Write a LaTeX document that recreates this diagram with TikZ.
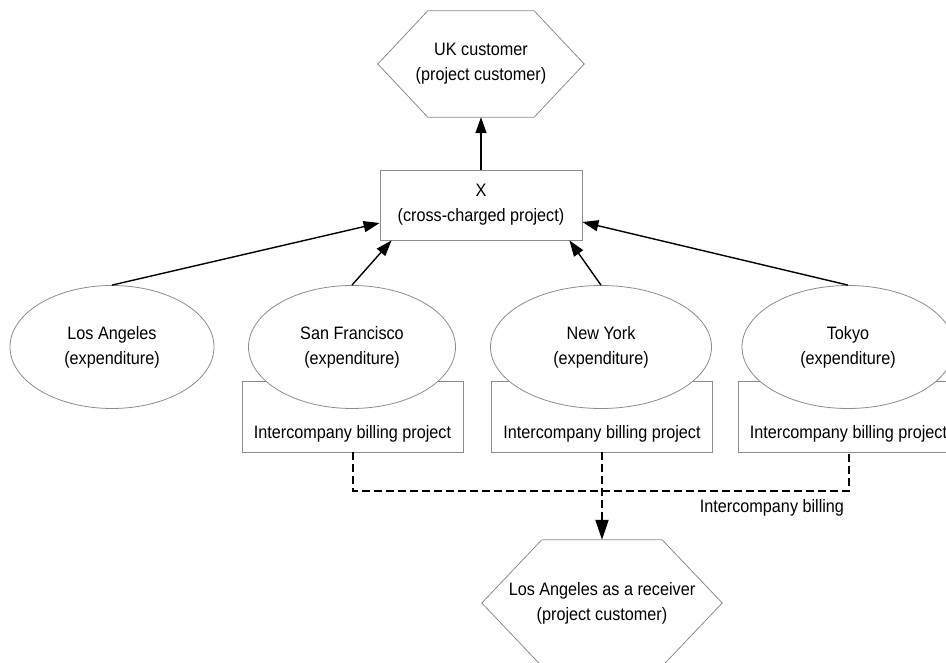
\documentclass[tikz,border=0pt]{standalone}
\usepackage{fontspec}
\setmainfont{Liberation Sans}[FakeStretch=0.9]
\usetikzlibrary{arrows.meta,shapes.geometric}

\begin{document}
\begin{tikzpicture}[x=1pt,y=-1pt,
  every node/.style={font=\fontsize{18}{25}\selectfont, align=center},
  outline/.style={draw=black!45, line width=0.8pt},
  hexlabel/.style={rectangle, inner sep=0pt},
  projbox/.style={outline, fill=white, rectangle, inner sep=0pt},
  cityell/.style={outline, fill=white, ellipse, inner sep=0pt, minimum height=123pt},
  billbox/.style={outline, fill=white, rectangle, inner sep=0pt,
    minimum width=221pt, text height=57.5pt, text depth=13.5pt},
  feed/.style={-{Triangle[length=16pt,width=11pt]}, line width=1.4pt},
  billing/.style={dash pattern=on 8pt off 4pt, line width=2pt},
]
\useasboundingbox (0,0) rectangle (946,663);
\begin{scope}
\clip (0,0) rectangle (946,663);
\fill[white] (0,0) rectangle (946,663);

% project customer at the top
\node[hexlabel, minimum width=206pt, minimum height=106pt] (uk) at (481,64)
  {UK customer\\(project customer)};
\draw[outline] (uk.west) -- ([xshift=50pt]uk.north west) -- ([xshift=-50pt]uk.north east)
  -- (uk.east) -- ([xshift=-50pt]uk.south east) -- ([xshift=50pt]uk.south west) -- cycle;

% cross-charged project
\node[projbox, minimum width=202pt, minimum height=70pt] (xproj) at (481,205)
  {X\\(cross-charged project)};

% intercompany billing projects
\node[billbox] (sfb) at (352.5,416.5) {Intercompany billing project};
\node[billbox] (nyb) at (602,416.5) {Intercompany billing project};
\node[billbox] (tkb) at (848.5,416.5) {Intercompany billing project};

% expenditure organizations
\node[cityell, minimum width=204pt] (la) at (112,347) {Los Angeles\\(expenditure)};
\node[cityell, minimum width=207pt] (sf) at (352,347) {San Francisco\\(expenditure)};
\node[cityell, minimum width=221pt] (ny) at (601,347) {New York\\(expenditure)};
\node[cityell, minimum width=212pt] (tk) at (848,347) {Tokyo\\(expenditure)};

% receiver as project customer
\node[hexlabel, minimum width=240pt, minimum height=126pt] (lar) at (602,603)
  {Los Angeles as a receiver\\(project customer)};
\draw[outline] (lar.west) -- ([xshift=60pt]lar.north west) -- ([xshift=-60pt]lar.north east)
  -- (lar.east) -- ([xshift=-60pt]lar.south east) -- ([xshift=60pt]lar.south west) -- cycle;

% cross charges
\draw[feed] (xproj.north) -- (uk.south);
\draw[feed] (la.north) -- ([yshift=-18pt]xproj.west);
\draw[feed] (sf.north) -- ([xshift=12pt]xproj.south west);
\draw[feed] (ny.north) -- ([xshift=-13pt]xproj.south east);
\draw[feed] (tk.north) -- ([yshift=-17pt]xproj.east);

% intercompany billing
\coordinate (bus) at (0,491);
\draw[billing] (sfb.south) -- (sfb.south |- bus) -- (tkb.south |- bus) -- (tkb.south);
\draw[billing, -{Triangle[length=20pt,width=13pt]}] (nyb.south) -- (lar.north);
\node (billlbl) at (772,508) {Intercompany billing};
\end{scope}
\end{tikzpicture}
\end{document}
